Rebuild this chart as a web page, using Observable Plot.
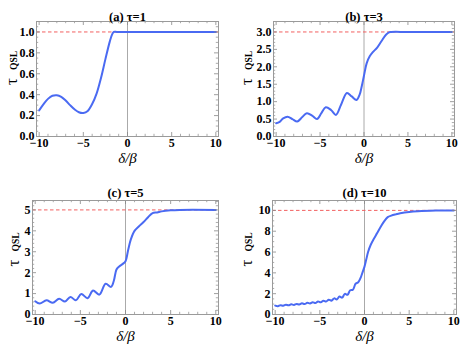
<!DOCTYPE html>
<html>
<head>
<meta charset="utf-8">
<script src="https://cdn.jsdelivr.net/npm/d3@7"></script>
<script src="https://cdn.jsdelivr.net/npm/@observablehq/plot@0.6"></script>
<style>
  html, body { margin: 0; padding: 0; background: #fff; }
  #wrap { position: relative; width: 471px; height: 353px; overflow: hidden; }
  #wrap > div { position: absolute; }
  #wrap svg text { font-family: 'Liberation Serif', 'DejaVu Serif', serif; }
</style>
</head>
<body>
<div id="wrap"></div>
<script>
// ---------- data ----------
const titles = ["(a) τ=1", "(b) τ=3", "(c) τ=5", "(d) τ=10"];
const taus = [1, 3, 5, 10];
const xLabel = "δ/β";
const yLabelMain = "τ";
const yLabelSub = "QSL";

const xTicks = [-10, -5, 0, 5, 10];
const xMinor = [-9, -8, -7, -6, -4, -3, -2, -1, 1, 2, 3, 4, 6, 7, 8, 9];

const yTicksA = [0, 0.2, 0.4, 0.6, 0.8, 1.0];
const yTicksB = [0, 0.5, 1.0, 1.5, 2.0, 2.5, 3.0];
const yTicksC = [0, 1, 2, 3, 4, 5];
const yTicksD = [0, 2, 4, 6, 8, 10];

const yMinorA = [0.05, 0.1, 0.15, 0.25, 0.3, 0.35, 0.45, 0.5, 0.55, 0.65, 0.7, 0.75, 0.85, 0.9, 0.95, 1.05];
const yMinorB = [0.1, 0.2, 0.3, 0.4, 0.6, 0.7, 0.8, 0.9, 1.1, 1.2, 1.3, 1.4, 1.6, 1.7, 1.8, 1.9, 2.1, 2.2, 2.3, 2.4, 2.6, 2.7, 2.8, 2.9, 3.1, 3.2];
const yMinorC = [0.2, 0.4, 0.6, 0.8, 1.2, 1.4, 1.6, 1.8, 2.2, 2.4, 2.6, 2.8, 3.2, 3.4, 3.6, 3.8, 4.2, 4.4, 4.6, 4.8, 5.2, 5.4];
const yMinorD = [0.5, 1, 1.5, 2.5, 3, 3.5, 4.5, 5, 5.5, 6.5, 7, 7.5, 8.5, 9, 9.5, 10.5];

// panel (a) tau = 1
const xA = [-10, -9.5, -9, -8.5, -8, -7.5, -7, -6.5, -6, -5.5, -5, -4.5, -4, -3.5, -3, -2.5, -2, -1.75, -1.55, -1.2, 0, 5, 10];
const yA = [0.25, 0.31, 0.36, 0.39, 0.395, 0.38, 0.345, 0.3, 0.26, 0.232, 0.225, 0.245, 0.31, 0.41, 0.56, 0.74, 0.91, 0.975, 1.0, 1.0, 1.0, 1.0, 1.0];

// panel (b) tau = 3
const xB = [-10, -9.6, -9.2, -8.7, -8.15, -7.6, -7.05, -6.5, -5.9, -5.35, -4.85, -4.35, -3.75, -3.2, -2.6, -1.95, -1.4, -0.85, -0.5, -0.25, 0, 0.3, 0.65, 1.0, 1.5, 2.0, 2.5, 2.85, 3.1, 5, 10];
const yB = [0.38, 0.42, 0.52, 0.57, 0.5, 0.43, 0.55, 0.67, 0.6, 0.5, 0.67, 0.84, 0.76, 0.62, 0.92, 1.25, 1.15, 1.05, 1.2, 1.45, 1.75, 2.1, 2.3, 2.42, 2.55, 2.74, 2.92, 2.99, 3.0, 3.0, 3.0];

// panel (c) tau = 5
const xC = [-10, -9.5, -8.75, -8.05, -7.35, -6.7, -6.1, -5.5, -4.9, -4.2, -3.6, -2.9, -2.2, -1.6, -1.3, -1.0, -0.7, -0.3, 0, 0.3, 0.6, 1.0, 1.5, 2.0, 2.5, 3.0, 3.5, 4.0, 5.0, 6.0, 10];
const yC = [0.63, 0.52, 0.68, 0.56, 0.75, 0.62, 0.84, 0.68, 0.98, 0.78, 1.15, 0.95, 1.47, 1.32, 1.6, 2.15, 2.3, 2.42, 2.55, 3.1, 3.6, 4.0, 4.22, 4.42, 4.65, 4.85, 4.88, 4.93, 4.98, 5.0, 5.0];

// panel (d) tau = 10
const xD = [-10, -9.7, -9.4, -9.1, -8.8, -8.5, -8.2, -7.9, -7.6, -7.3, -7.0, -6.7, -6.4, -6.1, -5.8, -5.5, -5.2, -4.9, -4.6, -4.3, -4.0, -3.7, -3.4, -3.1, -2.8, -2.5, -2.2, -1.9, -1.6, -1.3, -1.0, -0.7, -0.4, -0.2, 0, 0.2, 0.4, 0.7, 1.0, 1.4, 1.8, 2.2, 2.6, 3.0, 3.5, 4.0, 5.0, 6.0, 8.0, 10];
const yD = [0.85, 0.8, 0.9, 0.84, 0.94, 0.88, 0.98, 0.92, 1.02, 0.96, 1.07, 1.0, 1.12, 1.05, 1.18, 1.1, 1.25, 1.17, 1.33, 1.24, 1.42, 1.33, 1.55, 1.45, 1.72, 1.62, 1.98, 1.9, 2.33, 2.38, 2.95, 3.1, 3.6, 4.1, 4.6, 5.3, 6.0, 6.7, 7.2, 7.8, 8.4, 8.95, 9.35, 9.5, 9.62, 9.72, 9.85, 9.92, 9.98, 10.0];

// ---------- layout ----------
const SERIF = "'Liberation Serif', 'DejaVu Serif', serif";
const panels = [
  {xs: xA, ys: yA, yTicks: yTicksA, yMinor: yMinorA, yMax: 1.1, fmt: d3.format(".1f"),
   left: 0, top: 0, width: 235, height: 176, mt: 21, mr: 17, mb: 40, ml: 36, titleDy: -9, tauDx: -25, tauDy: 6, subDx: -23, subDy: -9},
  {xs: xB, ys: yB, yTicks: yTicksB, yMinor: yMinorB, yMax: 3.3, fmt: d3.format(".1f"),
   left: 235, top: 0, width: 236, height: 176, mt: 21, mr: 17, mb: 40, ml: 38, titleDy: -9, tauDx: -27, tauDy: 6, subDx: -25, subDy: -9},
  {xs: xC, ys: yC, yTicks: yTicksC, yMinor: yMinorC, yMax: 5.45, fmt: d3.format("d"),
   left: 0, top: 176, width: 235, height: 177, mt: 24, mr: 17, mb: 39, ml: 32, titleDy: -12, tauDx: -19, tauDy: 9, subDx: -17, subDy: -6},
  {xs: xD, ys: yD, yTicks: yTicksD, yMinor: yMinorD, yMax: 10.95, fmt: d3.format("d"),
   left: 235, top: 176, width: 236, height: 177, mt: 24, mr: 15, mb: 39, ml: 37, titleDy: -12, tauDx: -26, tauDy: 9, subDx: -24, subDy: -6}
];

const wrap = document.getElementById("wrap");
panels.forEach((p, i) => {
  const data = p.xs.map((x, k) => ({x, y: p.ys[k]}));
  const innerH = p.height - p.mt - p.mb;
  const innerW = p.width - p.ml - p.mr;
  const tickCol = "#888";
  const major = 4, minor = 2.2;
  const chart = Plot.plot({
    width: p.width,
    height: p.height,
    marginTop: p.mt, marginRight: p.mr, marginBottom: p.mb, marginLeft: p.ml,
    style: {fontFamily: SERIF, fontSize: "12px", fontWeight: "bold", color: "#000", background: "transparent"},
    x: {domain: [-10.3, 10.3], label: null},
    y: {domain: [0, p.yMax], label: null},
    marks: [
      Plot.ruleX([0], {stroke: "#aaa", strokeWidth: 1}),
      Plot.ruleY([taus[i]], {stroke: "#f26060", strokeWidth: 1, strokeDasharray: "3.5,2.5"}),
      Plot.line(data, {x: "x", y: "y", curve: "catmull-rom", stroke: "#4a6af2", strokeWidth: 2}),
      // frame ticks (inward, all four sides)
      Plot.ruleX(xTicks, {insetTop: innerH - major, stroke: tickCol, strokeWidth: 0.8}),
      Plot.ruleX(xTicks, {insetBottom: innerH - major, stroke: tickCol, strokeWidth: 0.8}),
      Plot.ruleX(xMinor, {insetTop: innerH - minor, stroke: tickCol, strokeWidth: 0.7}),
      Plot.ruleX(xMinor, {insetBottom: innerH - minor, stroke: tickCol, strokeWidth: 0.7}),
      Plot.ruleY(p.yTicks, {insetRight: innerW - major, stroke: tickCol, strokeWidth: 0.8}),
      Plot.ruleY(p.yTicks, {insetLeft: innerW - major, stroke: tickCol, strokeWidth: 0.8}),
      Plot.ruleY(p.yMinor, {insetRight: innerW - minor, stroke: tickCol, strokeWidth: 0.7}),
      Plot.ruleY(p.yMinor, {insetLeft: innerW - minor, stroke: tickCol, strokeWidth: 0.7}),
      Plot.frame({stroke: "#9a9a9a", strokeWidth: 1}),
      Plot.axisX({ticks: xTicks, tickSize: 0, tickPadding: 2, tickFormat: d3.format("d"), label: null, fontWeight: "bold", fontSize: 12, fontFamily: SERIF}),
      Plot.axisY({ticks: p.yTicks, tickSize: 0, tickPadding: 2, tickFormat: p.fmt, label: null, fontWeight: "bold", fontSize: 12, fontFamily: SERIF}),
      Plot.text([titles[i]], {frameAnchor: "top", dy: p.titleDy, fontSize: 12.5, fontWeight: "bold", fontFamily: SERIF, fill: "#000"}),
      Plot.text([xLabel], {frameAnchor: "bottom", dy: 26, fontSize: 15, fontStyle: "italic", fontWeight: "normal", fontFamily: SERIF, fill: "#000"}),
      Plot.text([yLabelMain], {frameAnchor: "left", dx: p.tauDx, dy: p.tauDy, rotate: -90, fontSize: 17, fontWeight: "normal", fontFamily: SERIF, fill: "#000"}),
      Plot.text([yLabelSub], {frameAnchor: "left", dx: p.subDx, dy: p.subDy, rotate: -90, fontSize: 9.5, fontWeight: "bold", fontFamily: SERIF, fill: "#000"})
    ]
  });
  const holder = document.createElement("div");
  holder.style.left = p.left + "px";
  holder.style.top = p.top + "px";
  holder.appendChild(chart);
  wrap.appendChild(holder);
});
</script>
</body>
</html>
